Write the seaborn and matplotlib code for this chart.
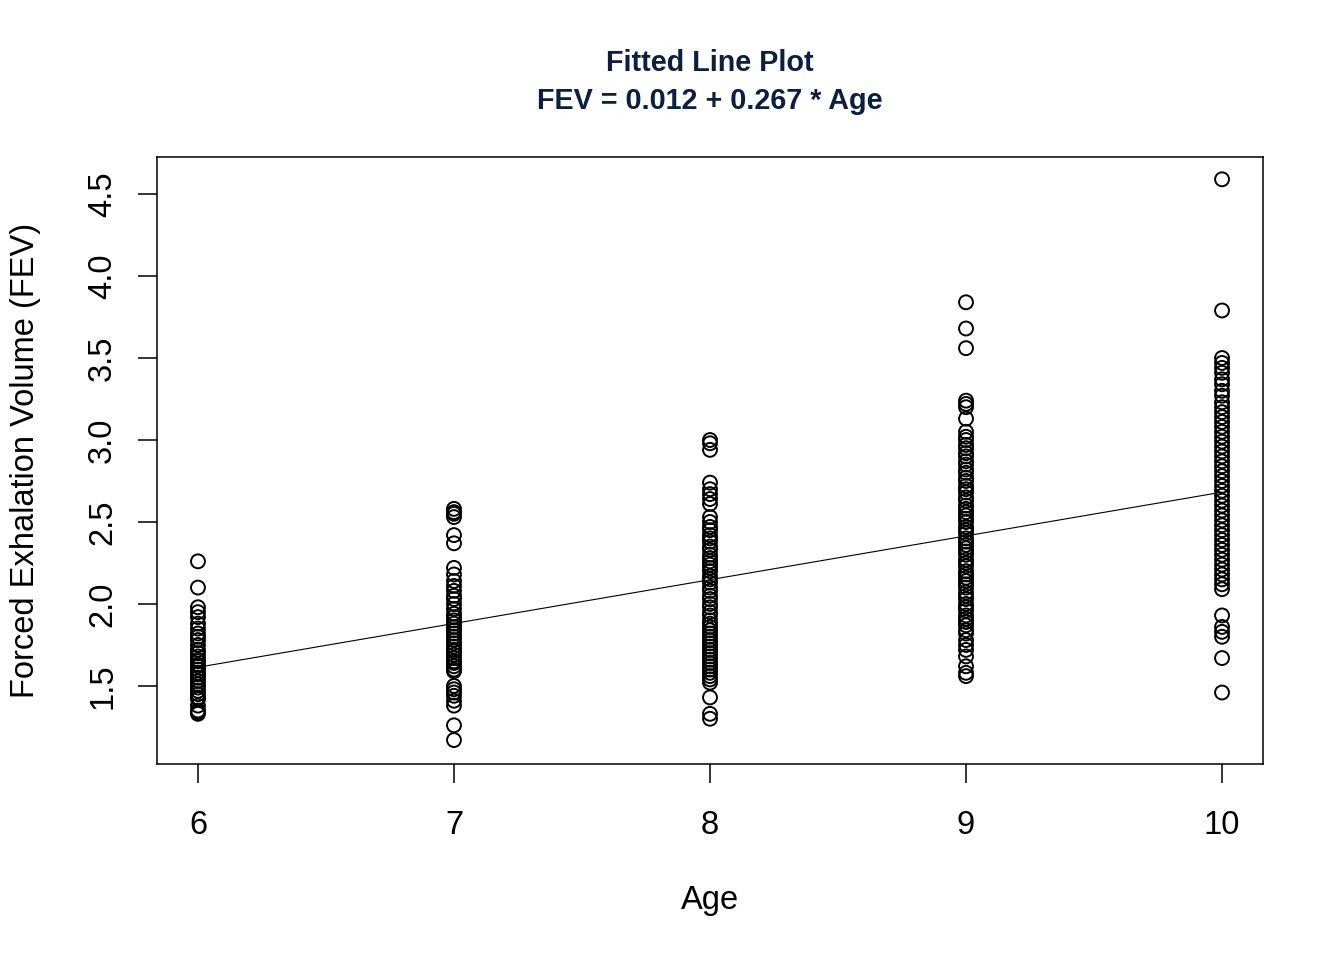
#!/usr/bin/env python3

import matplotlib
matplotlib.use("Agg")
import matplotlib.pyplot as plt
import numpy as np
import pandas as pd
import seaborn as sns

# FEV readings per age
fev_age6 = [2.26, 2.10, 1.98, 1.95, 1.92, 1.88, 1.85, 1.82, 1.80, 1.78, 1.75,
            1.72, 1.70, 1.68, 1.66, 1.65, 1.63, 1.62, 1.60, 1.58, 1.57, 1.55,
            1.53, 1.51, 1.49, 1.47, 1.45, 1.43, 1.42, 1.38, 1.35, 1.34, 1.33]
fev_age7 = [2.58, 2.56, 2.55, 2.53, 2.42, 2.37, 2.22, 2.18, 2.14, 2.11, 2.08,
            2.05, 2.03, 2.00, 1.97, 1.94, 1.92, 1.90, 1.88, 1.86, 1.84, 1.82,
            1.80, 1.78, 1.76, 1.74, 1.72, 1.71, 1.69, 1.67, 1.65, 1.64, 1.62,
            1.60, 1.59, 1.50, 1.48, 1.46, 1.44, 1.41, 1.38, 1.26, 1.17]
fev_age8 = [3.00, 2.98, 2.94, 2.74, 2.70, 2.67, 2.64, 2.61, 2.53, 2.50, 2.47,
            2.45, 2.42, 2.40, 2.38, 2.35, 2.33, 2.30, 2.28, 2.26, 2.24, 2.22,
            2.20, 2.17, 2.15, 2.13, 2.10, 2.08, 2.05, 2.03, 2.00, 1.98, 1.95,
            1.93, 1.90, 1.88, 1.86, 1.84, 1.82, 1.80, 1.78, 1.76, 1.74, 1.72,
            1.70, 1.68, 1.66, 1.64, 1.62, 1.60, 1.58, 1.56, 1.54, 1.52, 1.43,
            1.33, 1.30]
fev_age9 = [3.84, 3.68, 3.56, 3.24, 3.22, 3.20, 3.13, 3.05, 3.02, 3.00, 2.97,
            2.95, 2.92, 2.90, 2.87, 2.85, 2.82, 2.80, 2.77, 2.75, 2.72, 2.70,
            2.68, 2.65, 2.63, 2.60, 2.58, 2.56, 2.54, 2.52, 2.50, 2.47, 2.45,
            2.43, 2.40, 2.38, 2.36, 2.34, 2.32, 2.30, 2.27, 2.25, 2.23, 2.20,
            2.18, 2.16, 2.14, 2.12, 2.10, 2.07, 2.05, 2.03, 2.00, 1.98, 1.96,
            1.93, 1.91, 1.89, 1.87, 1.84, 1.82, 1.78, 1.75, 1.72, 1.68, 1.62,
            1.58, 1.56]
fev_age10 = [4.59, 3.79, 3.50, 3.47, 3.44, 3.41, 3.37, 3.34, 3.30, 3.27, 3.23,
             3.20, 3.17, 3.14, 3.11, 3.08, 3.05, 3.02, 2.99, 2.96, 2.93, 2.90,
             2.87, 2.84, 2.81, 2.78, 2.75, 2.72, 2.69, 2.66, 2.63, 2.60, 2.57,
             2.54, 2.51, 2.48, 2.45, 2.42, 2.39, 2.36, 2.33, 2.30, 2.27, 2.24,
             2.21, 2.18, 2.15, 2.12, 2.09, 1.93, 1.86, 1.83, 1.80, 1.67, 1.46]

ages = [6, 7, 8, 9, 10]
y_ticks = [1.5, 2.0, 2.5, 3.0, 3.5, 4.0, 4.5]

# fitted coefficients (from the title)
intercept = 0.012
slope = 0.267

groups = [fev_age6, fev_age7, fev_age8, fev_age9, fev_age10]
df = pd.DataFrame({
    'Age': np.concatenate([[a] * len(g) for a, g in zip(ages, groups)]),
    'FEV': np.concatenate(groups),
})

sns.set_theme(style="white")
plt.rcParams['font.family'] = ['Liberation Sans', 'DejaVu Sans']

fig = plt.figure(figsize=(13.44, 9.6), dpi=100)
ax = fig.add_axes([157 / 1344, 1 - 764 / 960, (1263 - 157) / 1344, (764 - 157) / 960])

sns.scatterplot(data=df, x='Age', y='FEV', ax=ax, marker='o', s=100,
                facecolors='none', edgecolors='black', linewidth=1.4)

fit_x = np.array([ages[0], ages[-1]])
ax.plot(fit_x, intercept + slope * fit_x, color='black', lw=0.8)

ax.set_xlim(5.84, 10.16)
ax.set_ylim(1.024, 4.726)
ax.set_xticks(ages)
ax.set_yticks(y_ticks)
ax.set_yticklabels([f"{v:.1f}" for v in y_ticks], rotation=90, va='center')

for s in ax.spines.values():
    s.set_color('black')
    s.set_linewidth(1.1)

ax.tick_params(axis='both', which='both', direction='out', length=14, width=1.1,
               color='black', labelsize=23.5, labelcolor='black',
               bottom=True, left=True)
ax.tick_params(axis='x', pad=19)
ax.tick_params(axis='y', pad=14)

ax.set_xlabel("")
ax.set_ylabel("")
fig.text(710 / 1344, 1 - 901 / 960, "Age", ha='center', va='center',
         fontsize=23.5, color='black')
fig.text(26 / 1344, 1 - 460 / 960, "Forced Exhalation Volume (FEV)", ha='center',
         va='center', rotation=90, fontsize=23.5, color='black')

fig.text(710 / 1344, 1 - 63 / 960, "Fitted Line Plot", ha='center', va='center',
         fontsize=20.7, fontweight='bold', color='#0b1f44')
fig.text(710 / 1344, 1 - 101 / 960, "FEV = 0.012 + 0.267 * Age", ha='center', va='center',
         fontsize=20.7, fontweight='bold', color='#0b1f44')

plt.savefig("out.png", dpi=100)
